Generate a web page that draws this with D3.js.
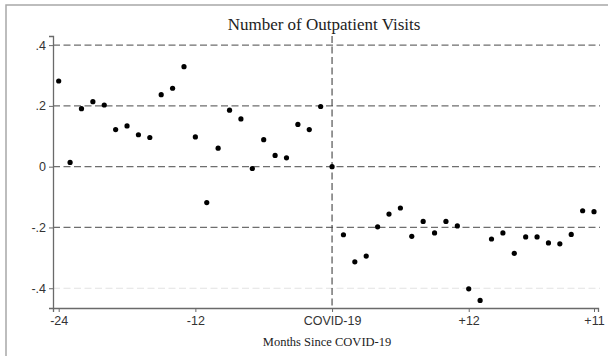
<!DOCTYPE html>
<html>
<head>
<meta charset="utf-8">
<script src="https://cdn.jsdelivr.net/npm/d3@7"></script>
<style>
  body { margin: 0; background: #fff; }
  #chart { width: 608px; height: 356px; }
</style>
</head>
<body>
<div id="chart"></div>
<script>
// months relative to COVID-19 onset
const months = [-24, -23, -22, -21, -20, -19, -18, -17, -16, -15, -14, -13, -12, -11, -10, -9, -8, -7, -6, -5, -4, -3, -2, -1, 0,
                1, 2, 3, 4, 5, 6, 7, 8, 9, 10, 11, 12, 13, 14, 15, 16, 17, 18, 19, 20, 21, 22, 23];
const visits = [0.282, 0.014, 0.191, 0.214, 0.203, 0.122, 0.134, 0.105, 0.096, 0.237, 0.258, 0.329, 0.098, -0.118, 0.061, 0.186,
                0.157, -0.006, 0.089, 0.037, 0.029, 0.139, 0.122, 0.198, 0,
                -0.224, -0.313, -0.294, -0.198, -0.156, -0.136, -0.229, -0.180, -0.218, -0.180, -0.195, -0.402, -0.440,
                -0.238, -0.218, -0.285, -0.231, -0.231, -0.251, -0.254, -0.223, -0.145, -0.148];

const xTicks = [-24, -12, 0, 12, 23];
const xTickLabels = ["-24", "-12", "COVID-19", "+12", "+11"];
const yTicks = [-0.4, -0.2, 0, 0.2, 0.4];
const yTickLabels = ["-.4", "-.2", "0", ".2", ".4"];

const data = months.map((m, i) => ({ month: m, value: visits[i] }));

const width = 608, height = 356;
const svg = d3.select("#chart").append("svg")
    .attr("width", width).attr("height", height);

// outer frame (only top and left edge visible)
svg.append("rect")
    .attr("x", 6).attr("y", 5)
    .attr("width", 610).attr("height", 360)
    .attr("fill", "none")
    .attr("stroke", "#a8a8a8")
    .attr("stroke-width", 1.5);

const xScale = d3.scaleLinear().domain([-24.5, 23.35]).range([53, 598]);
const yScale = d3.scaleLinear().domain([-0.465, 0.43]).range([308, 36]);

// gridlines
svg.selectAll(".grid")
    .data(yTicks)
    .enter().append("line")
    .attr("class", "grid")
    .attr("x1", 53).attr("x2", 600)
    .attr("y1", d => yScale(d)).attr("y2", d => yScale(d))
    .attr("stroke", d => d === -0.4 ? "#e2e2e2" : "#6e6e6e")
    .attr("stroke-width", 1.2)
    .attr("stroke-dasharray", "7,3.5");

// COVID-19 reference line
svg.append("line")
    .attr("x1", xScale(0)).attr("x2", xScale(0))
    .attr("y1", 36).attr("y2", 308)
    .attr("stroke", "#444")
    .attr("stroke-width", 1.1)
    .attr("stroke-dasharray", "7,3.5");

// axes
const xAxis = d3.axisBottom(xScale)
    .tickValues(xTicks)
    .tickFormat((d, i) => xTickLabels[i])
    .tickSize(4)
    .tickPadding(4);
const yAxis = d3.axisLeft(yScale)
    .tickValues(yTicks)
    .tickFormat((d, i) => yTickLabels[i])
    .tickSize(4)
    .tickPadding(3);

const gx = svg.append("g")
    .attr("transform", "translate(0,308)")
    .call(xAxis);
const gy = svg.append("g")
    .attr("transform", "translate(53,0)")
    .call(yAxis);

[gx, gy].forEach(g => {
    g.select(".domain").attr("stroke", "#6a6a6a").attr("stroke-width", 1.3);
    g.selectAll(".tick line").attr("stroke", "#6a6a6a");
    g.selectAll(".tick text")
        .attr("fill", "#333")
        .style("font-family", "'Liberation Sans', Arial, sans-serif")
        .style("font-size", "12.5px");
});

// points
svg.selectAll(".pt")
    .data(data)
    .enter().append("circle")
    .attr("class", "pt")
    .attr("cx", d => xScale(d.month))
    .attr("cy", d => yScale(d.value))
    .attr("r", 2.6)
    .attr("fill", "#000");

// title and axis title
svg.append("text")
    .attr("x", 324)
    .attr("y", 30)
    .attr("text-anchor", "middle")
    .attr("fill", "#222")
    .style("font-family", "'Liberation Serif', 'Times New Roman', serif")
    .style("font-size", "17px")
    .text("Number of Outpatient Visits");

svg.append("text")
    .attr("x", 327)
    .attr("y", 346)
    .attr("text-anchor", "middle")
    .attr("fill", "#222")
    .style("font-family", "'Liberation Serif', 'Times New Roman', serif")
    .style("font-size", "12.5px")
    .text("Months Since COVID-19");
</script>
</body>
</html>
